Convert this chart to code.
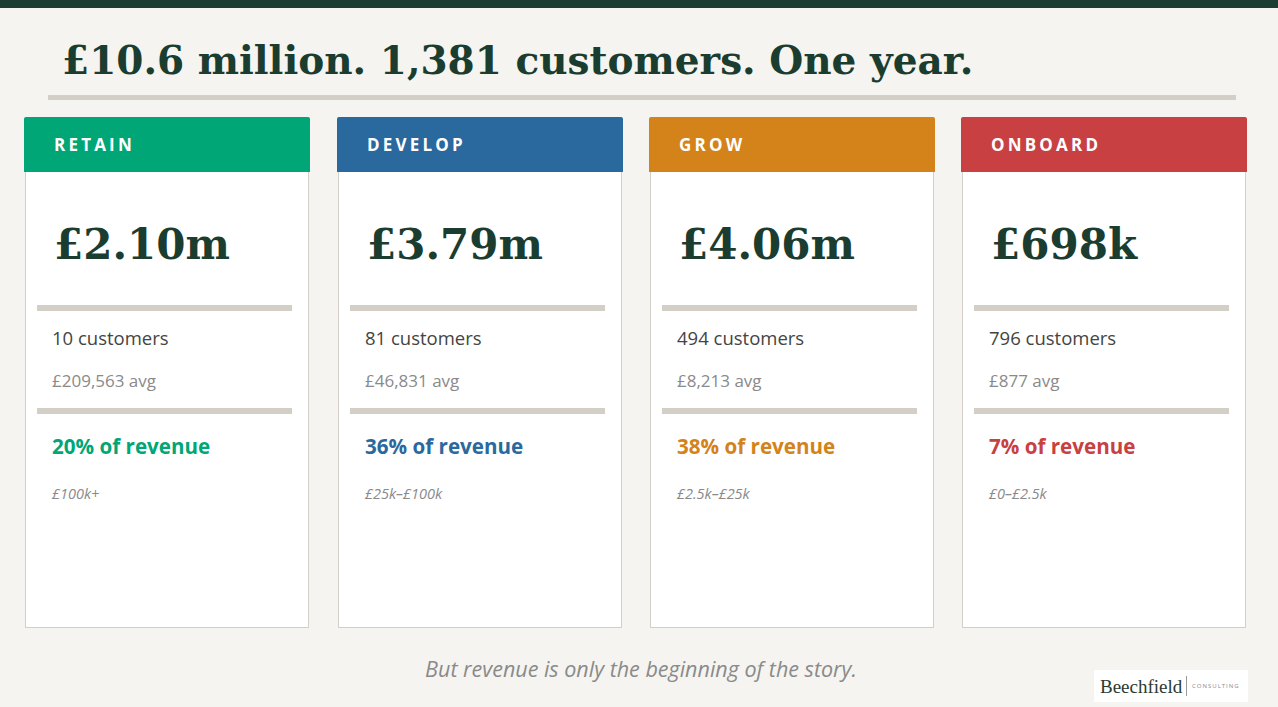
<!DOCTYPE html>
<html>
<head>
<meta charset="utf-8">
<script src="https://cdn.jsdelivr.net/npm/chart.js@4.4.1/dist/chart.umd.min.js"></script>
<style>
  html, body { margin: 0; padding: 0; }
  body { width: 1278px; height: 707px; background: #f5f4f0; position: relative; overflow: hidden; font-family: "Open Sans", "Noto Sans", sans-serif; }
  .topbar { position: absolute; left: 0; top: 0; width: 1278px; height: 8px; background: #1c3d2f; }
  .title { position: absolute; left: 62px; top: 41px; font-family: "DejaVu Serif", serif; font-weight: bold; font-size: 39px; line-height: 1; color: #1b3d2f; white-space: nowrap; }
  .title-rule { position: absolute; left: 48px; top: 95px; width: 1188px; height: 5px; background: #d3cfc7; }
  .card { position: absolute; top: 117px; width: 286px; height: 511px; }
  .card .head { position: absolute; left: 0; top: 0; width: 286px; height: 55px; border-radius: 2px 2px 0 0; }
  .card .head span { position: absolute; left: 30px; top: 19px; font-weight: bold; font-size: 17px; line-height: 1; letter-spacing: 3.2px; color: #fff; }
  .card .body { position: absolute; left: 1px; top: 55px; width: 282px; height: 455px; background: #fff; border: 1px solid #d3cfc7; border-top: none; }
  .card .val { position: absolute; left: 28px; top: 52px; font-family: "DejaVu Serif", serif; font-weight: bold; font-size: 42px; line-height: 1; color: #1b3d2f; white-space: nowrap; }
  .card .rule { position: absolute; left: 11px; width: 255px; height: 6px; background: #d3cfc7; }
  .card .cust { position: absolute; left: 26px; top: 157px; font-size: 18.5px; line-height: 1; color: #444; }
  .card .avg { position: absolute; left: 26px; top: 200px; font-size: 17px; line-height: 1; color: #8a8a8a; }
  .card .share { position: absolute; left: 26px; top: 264px; font-weight: bold; font-size: 20.6px; line-height: 1; }
  .card .band { position: absolute; left: 26px; top: 315px; font-style: italic; font-size: 14.5px; line-height: 1; color: #8a8a8a; }
  .footer { position: absolute; left: 2px; width: 1278px; top: 658px; text-align: center; font-style: italic; font-size: 21.5px; line-height: 1; color: #8a8a8a; }
  .logo { position: absolute; left: 1094px; top: 670px; width: 154px; height: 32px; background: #fff; }
  .logo .name { position: absolute; left: 6px; top: 7px; font-family: "Liberation Serif", serif; font-size: 19px; line-height: 1; color: #2c3a31; }
  .logo .bar { position: absolute; left: 92px; top: 6px; width: 1px; height: 20px; background: #9a9a9a; }
  .logo .sub { position: absolute; left: 98px; top: 13px; font-size: 6px; line-height: 1; letter-spacing: 1px; color: #8a8a8a; }
</style>
</head>
<body>
<div class="topbar"></div>
<div class="title" id="title"></div>
<div class="title-rule"></div>
<div id="cards"></div>
<div class="footer" id="footer"></div>
<div class="logo"><span class="name">Beechfield</span><span class="bar"></span><span class="sub">CONSULTING</span></div>

<script>
const headline = "£10.6 million. 1,381 customers. One year.";
const segments = ["RETAIN", "DEVELOP", "GROW", "ONBOARD"];
const revenue = ["£2.10m", "£3.79m", "£4.06m", "£698k"];
const customers = [10, 81, 494, 796];
const avgValue = [209563, 46831, 8213, 877];
const revenueShare = [20, 36, 38, 7];
const bands = ["£100k+", "£25k–£100k", "£2.5k–£25k", "£0–£2.5k"];
const colors = ["#00a676", "#2a699e", "#d4821a", "#c84042"];
const footnote = "But revenue is only the beginning of the story.";

document.getElementById("title").textContent = headline;
document.getElementById("footer").textContent = footnote;

const wrap = document.getElementById("cards");
segments.forEach((seg, i) => {
  const card = document.createElement("div");
  card.className = "card";
  card.style.left = (24 + Math.ceil(i * 312.3)) + "px";
  card.innerHTML =
    `<div class="head" style="background:${colors[i]}"><span>${seg}</span></div>` +
    `<div class="body">` +
    `<div class="val">${revenue[i]}</div>` +
    `<div class="rule" style="top:133px"></div>` +
    `<div class="cust">${customers[i]} customers</div>` +
    `<div class="avg">£${avgValue[i].toLocaleString("en-GB")} avg</div>` +
    `<div class="rule" style="top:236px"></div>` +
    `<div class="share" style="color:${colors[i]}">${revenueShare[i]}% of revenue</div>` +
    `<div class="band">${bands[i]}</div>` +
    `</div>`;
  wrap.appendChild(card);
});
</script>
</body>
</html>
